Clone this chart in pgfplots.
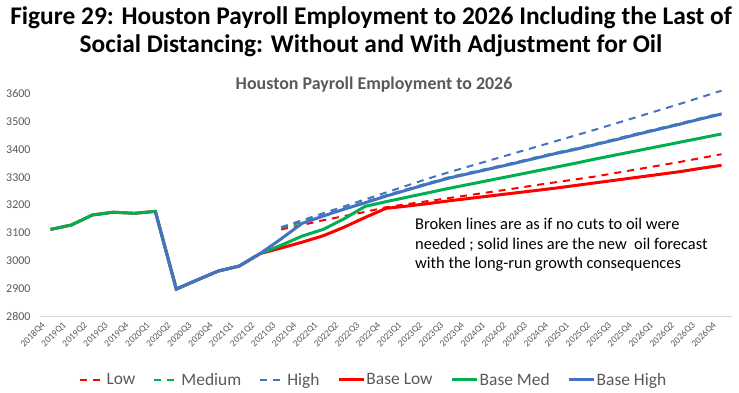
\documentclass[border=0pt]{standalone}
\usepackage{pgfplots}
\pgfplotsset{compat=1.18}
\usepackage{pgfplotstable}
\usepackage{fontspec}
\setmainfont{Carlito}
\definecolor{cred}{HTML}{FF0000}
\definecolor{cgreen}{HTML}{00B050}
\definecolor{cblue}{HTML}{4472C4}
\definecolor{tgray}{HTML}{595959}
\definecolor{lgray}{HTML}{D9D9D9}

\pgfplotstableread{
i low med high blow bmed bhigh
0 nan nan nan 3112 3112 nan
1 nan nan nan 3128 3128 nan
2 nan nan nan 3164 3164 nan
3 nan nan nan 3174 3174 nan
4 nan nan nan 3170 3170 nan
5 nan nan nan 3177 3177 3177
6 nan nan nan 2897 2897 2897
7 nan nan nan 2930 2930 2930
8 nan nan nan 2962 2962 2962
9 nan nan nan 2980 2980 2980
10 nan nan nan 3025 3025 3025
11 3112 3117 3120 3045 3055 3078
12 3128 3138 3145 3066 3088 3134
13 3145 3162 3170 3089 3112 3160
14 3160 3187 3195 3120 3150 3185
15 3175 3211 3220 3155 3195 3208
16 3192 3235 3245 3188 3212 3232
17 3203 3257 3270 3196 3228 3254
18 3214 3279 3295 3205 3244 3276
19 3225 3300 3318 3215 3260 3297
20 3236 3317 3340 3224 3275 3314
21 3247 3334 3362 3233 3290 3331
22 3258 3351 3384 3242 3305 3348
23 3270 3369 3406 3251 3320 3366
24 3281 3387 3428 3260 3335 3384
25 3292 3403 3450 3270 3350 3400
26 3303 3421 3472 3280 3366 3418
27 3316 3439 3495 3290 3381 3436
28 3329 3458 3518 3300 3396 3455
29 3342 3476 3541 3310 3411 3473
30 3355 3494 3564 3320 3426 3491
31 3369 3513 3588 3332 3441 3510
32 3383 3531 3612 3343 3456 3528
}\datatable

\begin{document}
\begin{tikzpicture}
\path[use as bounding box] (0,0) rectangle (739bp,393bp);
\begin{axis}[
  scale only axis,
  width=692bp, height=222bp,
  at={(40bp,77bp)}, anchor=south west,
  xmin=-0.5, xmax=32.5,
  ymin=2800, ymax=3600,
  ytick={2800,2900,...,3600},
  xtick={0,...,32},
  xticklabels={2018Q4,2019Q1,2019Q2,2019Q3,2019Q4,2020Q1,2020Q2,2020Q3,2020Q4,2021Q1,2021Q2,2021Q3,2021Q4,2022Q1,2022Q2,2022Q3,2022Q4,2023Q1,2023Q2,2023Q3,2023Q4,2024Q1,2024Q2,2024Q3,2024Q4,2025Q1,2025Q2,2025Q3,2025Q4,2026Q1,2026Q2,2026Q3,2026Q4},
  axis x line*=bottom, axis y line*=left,
  x axis line style={draw=lgray, line width=0.8bp, -},
  y axis line style={draw=none},
  major tick length=0pt,
  /pgf/number format/assume math mode=true,
  /pgf/number format/1000 sep={},
  yticklabel style={font=\fontsize{12}{14}\selectfont, text=tgray, anchor=east, xshift=-6bp},
  xticklabel style={font=\fontsize{9.5}{11}\selectfont, text=tgray, rotate=45, anchor=east, xshift=-7bp, yshift=-1bp},
  unbounded coords=jump,
  clip=false,
  legend columns=-1,
  legend style={at={(0.481,-0.288)}, anchor=center, draw=none, fill=none,
    font=\fontsize{17.5}{20}\selectfont, text=tgray,
    /tikz/every even column/.append style={column sep=17bp},
    inner sep=0pt,
    nodes={inner sep=1pt}},
  legend image code/.code={\draw[#1] (0bp,0bp) -- (25bp,0bp);},
]
\addplot[cred, line width=2bp, dash pattern=on 7bp off 6bp] table[x=i, y=low] {\datatable};
\addlegendentry{Low}
\addplot[cgreen, line width=2bp, dash pattern=on 7bp off 6bp] table[x=i, y=med] {\datatable};
\addlegendentry{Medium}
\addplot[cblue, line width=2bp, dash pattern=on 7bp off 6bp] table[x=i, y=high] {\datatable};
\addlegendentry{High}
\addplot[cred, line width=3bp] table[x=i, y=blow] {\datatable};
\addlegendentry{Base Low}
\addplot[cgreen, line width=3bp] table[x=i, y=bmed] {\datatable};
\addlegendentry{Base Med}
\addplot[cblue, line width=3bp] table[x=i, y=bhigh] {\datatable};
\addlegendentry{Base High}
\end{axis}
\node[font=\fontsize{25.5}{28}\selectfont\bfseries, align=center, text=black] at (371bp,361bp)
  {Figure 29: Houston Payroll Employment to 2026 Including the Last of\\Social Distancing: Without and With Adjustment for Oil};
\node[font=\fontsize{18}{20}\selectfont\bfseries, text=tgray] at (374bp,308bp) {Houston Payroll Employment to 2026};
\node[font=\fontsize{16.5}{19.5}\selectfont, align=left, anchor=north west, text=black, inner sep=0pt] at (415bp,175bp)
  {Broken lines are as if no cuts to oil were\\needed ; solid lines are the new\ \ oil forecast\\with the long-run growth consequences};
\end{tikzpicture}
\end{document}
